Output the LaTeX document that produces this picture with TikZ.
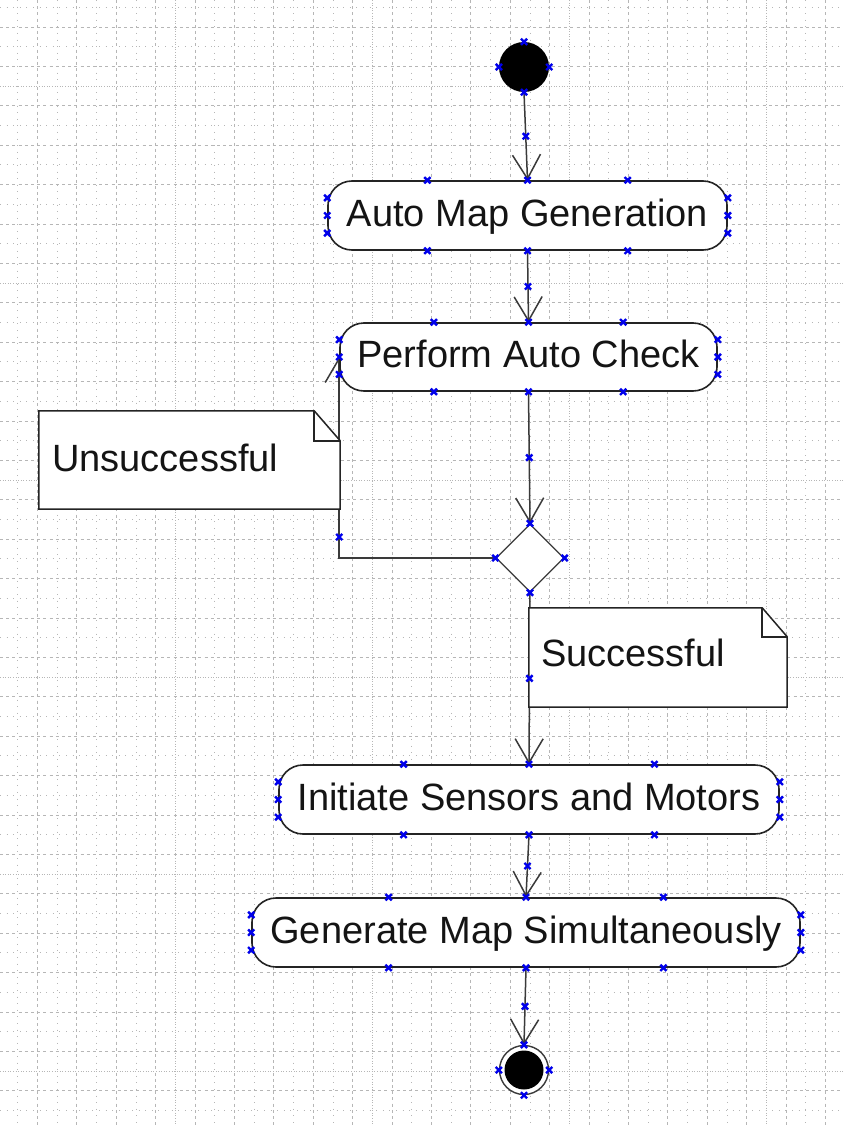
\documentclass[tikz,border=0pt]{standalone}
\usepackage{fontspec}
\setmainfont{Liberation Sans}
\usetikzlibrary{arrows.meta,shapes.geometric,calc}

\definecolor{gridc}{RGB}{182,182,182}
\definecolor{edgeline}{RGB}{58,58,58}
\definecolor{boxline}{RGB}{36,36,36}
\definecolor{handleblue}{RGB}{0,0,235}
\definecolor{inktext}{RGB}{20,20,20}

\pgfdeclarelayer{gridlayer}
\pgfdeclarelayer{edgelayer}
\pgfsetlayers{gridlayer,edgelayer,main}

\tikzset{
  bigfont/.style={font=\fontsize{38}{44}\selectfont},
  action/.style={draw=boxline, line width=1.6pt, fill=white, rounded corners=24pt,
    inner sep=0pt, text=inktext, bigfont, text height=28pt, text depth=7pt},
  flow/.style={draw=edgeline, line width=1.5pt,
    -{Straight Barb[length=24pt,width=28pt,line width=1.5pt]}},
  notebody/.style={draw=none, inner sep=0pt},
  noteline/.style={draw=boxline, line width=1.5pt, fill=white, line join=miter},
  notetext/.style={inner sep=0pt, text=inktext, bigfont, anchor=base west},
  majorgrid/.style={draw=gridc, line width=0.9pt, dash pattern=on 3pt off 3.2pt},
  minorgrid/.style={draw=gridc, line width=0.9pt, dash pattern=on 1pt off 5.6pt},
  densegrid/.style={draw=gridc, line width=0.9pt, dash pattern=on 1pt off 1.6pt},
  handle/.pic={\draw[handleblue, line width=2.4pt]
    (-3.1,-3.1) -- (3.1,3.1) (-3.1,3.1) -- (3.1,-3.1);},
}

% selection handles at the quarter points of each side of a box
\newcommand\boxhandles[1]{%
  \foreach \t in {0.25,0.5,0.75}{%
    \pic at ($(#1.north west)!\t!(#1.north east)$) {handle};
    \pic at ($(#1.south west)!\t!(#1.south east)$) {handle};
    \pic at ($(#1.north west)!\t!(#1.south west)$) {handle};
    \pic at ($(#1.north east)!\t!(#1.south east)$) {handle};
  }}
\newcommand\roundhandles[1]{%
  \foreach \a in {north,south,east,west}{\pic at (#1.\a) {handle};}}

\begin{document}
\begin{tikzpicture}[x=1pt,y=-1pt]
\useasboundingbox (0,0) rectangle (843,1126);

% background grid
\begin{pgfonlayer}{gridlayer}
  \fill[white] (0,0) rectangle (843,1126);
  \foreach \k in {0,...,21}{
    \draw[majorgrid] ({37.5+39.4*\k},0) -- ({37.5+39.4*\k},1126);
    \pgfmathtruncatemacro\m{mod(\k,5)}
    \ifnum\m=4
      \draw[densegrid] ({17.8+39.4*\k},0) -- ({17.8+39.4*\k},1126);
    \else
      \draw[minorgrid] ({17.8+39.4*\k},0) -- ({17.8+39.4*\k},1126);
    \fi
  }
  \foreach \k in {0,...,28}{
    \draw[majorgrid] (0,{27+39.4*\k}) -- (843,{27+39.4*\k});
    \pgfmathtruncatemacro\m{mod(\k,5)}
    \ifnum\m=2
      \draw[densegrid] (0,{7.3+39.4*\k}) -- (843,{7.3+39.4*\k});
    \else
      \draw[minorgrid] (0,{7.3+39.4*\k}) -- (843,{7.3+39.4*\k});
    \fi
  }
\end{pgfonlayer}

% initial and final states
\node[circle, fill=black, minimum size=50, inner sep=0pt] (start) at (524,67) {};
\node[circle, draw=edgeline, line width=1.4pt, fill=white, minimum size=49, inner sep=0pt] (stop) at (524,1070) {};
\node[circle, fill=black, minimum size=39, inner sep=0pt] (stopdot) at (stop.center) {};

% actions
\node[action, minimum width=399, minimum height=69] (genmap) at (527.5,215.5) {Auto Map Generation};
\node[action, minimum width=377, minimum height=68] (check) at (528.5,357) {Perform Auto Check};
\node[action, minimum width=500, minimum height=69] (init) at (529,799.5) {Initiate Sensors and Motors};
\node[action, minimum width=548, minimum height=69] (simul) at (526,932.5) {Generate Map Simultaneously};

% decision
\node[diamond, draw=edgeline, line width=1.3pt, fill=white, minimum width=68, minimum height=68, inner sep=0pt] (dec) at (530,558) {};

% notes
\node[notebody, minimum width=301, minimum height=98] (nfail) at (189.5,460) {};
\path[noteline] (nfail.north west) -- ($(nfail.north east)+(-26,0)$) -- ($(nfail.north east)+(0,30)$)
  -- (nfail.south east) -- (nfail.south west) -- cycle;
\draw[noteline, fill=none] ($(nfail.north east)+(-26,0)$) -- ($(nfail.north east)+(-26,30)$) -- ($(nfail.north east)+(0,30)$);
\node[notetext] (tfail) at (52,471) {Unsuccessful};

\node[notebody, minimum width=258, minimum height=99] (nok) at (658,657.5) {};
\path[noteline] (nok.north west) -- ($(nok.north east)+(-25,0)$) -- ($(nok.north east)+(0,29)$)
  -- (nok.south east) -- (nok.south west) -- cycle;
\draw[noteline, fill=none] ($(nok.north east)+(-25,0)$) -- ($(nok.north east)+(-25,29)$) -- ($(nok.north east)+(0,29)$);
\node[notetext] (tok) at (541,666) {Successful};

% control flow
\begin{pgfonlayer}{edgelayer}
  \coordinate (loopturn) at (dec.west -| check.west);
  \draw[flow] (start.south) -- (genmap.north);
  \draw[flow] (genmap.south) -- (check.north);
  \draw[flow] (check.south) -- (dec.north);
  \draw[flow] (dec.west) -- (loopturn) -- (check.west);
  \draw[flow] (dec.south) -- (init.north);
  \draw[flow] (init.south) -- (simul.north);
  \draw[flow] (simul.south) -- (stop.north);
\end{pgfonlayer}

% selection handles
\roundhandles{start}
\roundhandles{stop}
\roundhandles{dec}
\boxhandles{genmap}
\boxhandles{check}
\boxhandles{init}
\boxhandles{simul}
\pic at ($(start.south)!0.5!(genmap.north)$) {handle};
\pic at ($(genmap.south)!0.5!(check.north)$) {handle};
\pic at ($(check.south)!0.5!(dec.north)$) {handle};
\pic at ($(loopturn)+(0,-21)$) {handle};
\pic at ($(dec.south)!0.5!(init.north)$) {handle};
\pic at ($(init.south)!0.5!(simul.north)$) {handle};
\pic at ($(simul.south)!0.5!(stop.north)$) {handle};
\end{tikzpicture}
\end{document}
